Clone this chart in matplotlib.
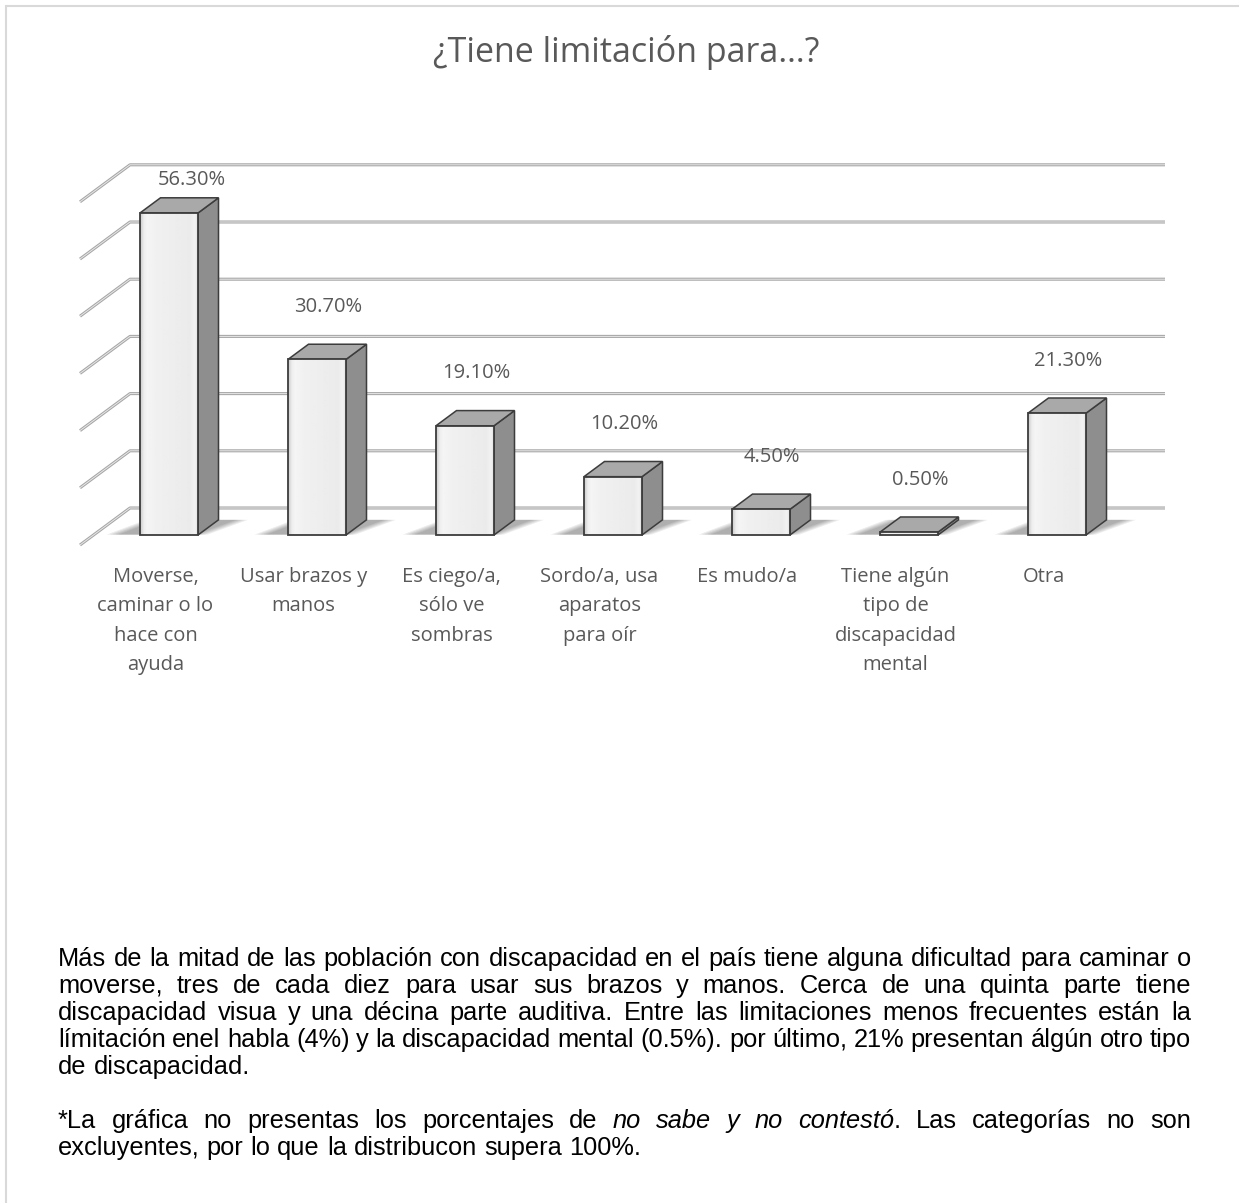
import numpy as np
import matplotlib
matplotlib.use('Agg')
import matplotlib.pyplot as plt
from matplotlib.patches import Polygon
from matplotlib.lines import Line2D

# data
categories = ['Moverse,\ncaminar o lo\nhace con\nayuda',
              'Usar brazos y\nmanos',
              'Es ciego/a,\nsólo ve\nsombras',
              'Sordo/a, usa\naparatos\npara oír',
              'Es mudo/a',
              'Tiene algún\ntipo de\ndiscapacidad\nmental',
              'Otra']
values = [56.3, 30.7, 19.1, 10.2, 4.5, 0.5, 21.3]
grid_values = [0, 10, 20, 30, 40, 50, 60]
title = '¿Tiene limitación para…?'

body_lines = [
    'Más de la mitad de las población con discapacidad en el país tiene alguna dificultad para caminar o',
    'moverse, tres de cada diez para usar sus brazos y manos. Cerca de una quinta parte tiene',
    'discapacidad visua y una décina parte auditiva. Entre las limitaciones menos frecuentes están la',
    'límitación enel habla (4%) y la discapacidad mental (0.5%). por último, 21% presentan álgún otro tipo',
    'de discapacidad.',
]
note_lines = [
    [('*La gráfica no presentas los porcentajes de ', False),
     ('no sabe y no contestó', True),
     ('. Las categorías no son', False)],
    [('excluyentes, por lo que la distribucon supera 100%.', False)],
]

# layout (pixels)
W, H = 1248, 1203
PX_CAT = 148.0      # pixels per category step
PX_PCT = 5.72       # pixels per percentage point
X0_PX, Y0_PX = 155.5, 545.0   # floor front, category 0
DX = 50.0 / PX_CAT  # depth direction
DY = 37.0 / PX_PCT
D_FRONT, D_BACK = 0.27, 0.68
BAR_X0, BAR_W = -0.196, 0.392
FLOOR_X = (80 - X0_PX) / PX_CAT
WALL_END = (1165 - X0_PX) / PX_CAT

TXT = '#595959'
FONT = 'Open Sans'

fig = plt.figure(figsize=(W / 100, H / 100), dpi=100)
fig.patch.set_facecolor('white')

ax_top, ax_bot = 120, 700
ax = fig.add_axes([0, 1 - ax_bot / H, 1, (ax_bot - ax_top) / H])
ax.axis('off')


def proj(x, v, d):
    return x + d * DX, v + d * DY


# gridlines: left wall diagonal + back wall line
for g in grid_values:
    p0 = proj(FLOOR_X, g, 0)
    p1 = proj(FLOOR_X, g, 1)
    xs = [p0[0], p1[0], WALL_END]
    ys = [p0[1], p1[1], p1[1]]
    ax.plot(xs, ys, color='#a6a6a6', lw=2.2, solid_capstyle='butt', zorder=1)
    ax.plot(xs, ys, color='#e8e8e8', lw=0.7, solid_capstyle='butt', zorder=1.1)

front_shade = np.interp(np.linspace(0, 1, 60),
                        [0, 0.06, 0.12, 0.3, 0.6, 0.85, 0.94, 1],
                        [0.80, 0.93, 0.96, 0.94, 0.93, 0.92, 0.95, 0.85])

for i, v in enumerate(values):
    xl = i + BAR_X0
    xr = xl + BAR_W

    # soft floor shadow, mostly to the left of the bar
    for k in range(5):
        grow = 0.02 * (4 - k)
        shadow = [proj(xl - 0.15 - grow, 0, D_FRONT + 0.01),
                  proj(xr - 0.02 + grow, 0, D_FRONT + 0.01),
                  proj(xr + 0.12 + grow, 0, D_BACK),
                  proj(xl - 0.02 - grow, 0, D_BACK)]
        ax.add_patch(Polygon(shadow, closed=True, facecolor='black',
                             edgecolor='none', alpha=0.07, zorder=2))

    front = [proj(xl, 0, D_FRONT), proj(xr, 0, D_FRONT),
             proj(xr, v, D_FRONT), proj(xl, v, D_FRONT)]
    side = [proj(xr, 0, D_FRONT), proj(xr, 0, D_BACK),
            proj(xr, v, D_BACK), proj(xr, v, D_FRONT)]
    top = [proj(xl, v, D_FRONT), proj(xr, v, D_FRONT),
           proj(xr, v, D_BACK), proj(xl, v, D_BACK)]

    ax.add_patch(Polygon(side, closed=True, facecolor='#8e8e8e',
                         edgecolor='#3c3c3c', lw=1.1, zorder=3))
    ax.add_patch(Polygon(top, closed=True, facecolor='#a9a9a9',
                         edgecolor='#3c3c3c', lw=1.1, zorder=3))
    fp = Polygon(front, closed=True, facecolor='none',
                 edgecolor='#3c3c3c', lw=1.3, zorder=4)
    ax.add_patch(fp)
    (fx0, fy0), (fx1, _), _, (_, fy1) = front
    img = ax.imshow(np.tile(front_shade, (2, 1)), cmap='gray', vmin=0, vmax=1,
                    extent=[fx0, fx1, fy0, fy1], aspect='auto',
                    interpolation='bilinear', zorder=3.5)
    img.set_clip_path(fp)

    # value label
    ly = min(v + D_BACK * DY + 6.5, 63.8)
    lx = i + 0.165 + (0.08 if ly >= 63.8 else 0)
    ax.text(lx, ly, f'{v:.2f}%', ha='center', va='center',
            fontsize=14.5, color=TXT, family=FONT, zorder=5)

    # category label
    ax.text(i, (Y0_PX - 567) / PX_PCT, categories[i], ha='center', va='top',
            fontsize=14.5, color=TXT, family=FONT, linespacing=1.63)

ax.set_xlim((0 - X0_PX) / PX_CAT, (W - X0_PX) / PX_CAT)
ax.set_ylim((Y0_PX - ax_bot) / PX_PCT, (Y0_PX - ax_top) / PX_PCT)

fig.text(626 / W, 1 - 52 / H, title, ha='center', va='center',
         fontsize=24.5, color=TXT, family=FONT)

# frame
fig.add_artist(Line2D([8 / W, 1238 / W], [1 - 6 / H, 1 - 6 / H],
                      color='#d9d9d9', lw=1.5))
fig.add_artist(Line2D([6 / W, 6 / W], [1 - 6 / H, 0],
                      color='#d9d9d9', lw=1.5))

# justified paragraph
renderer = fig.canvas.get_renderer()
LEFT, RIGHT = 58, 1191
BODY_SIZE = 18.3


def to_words(runs):
    words = [[]]
    for text, italic in runs:
        for j, part in enumerate(text.split(' ')):
            if j > 0:
                words.append([])
            if part:
                words[-1].append((part, italic))
    return [w for w in words if w]


def draw_line(runs, y_px, justify):
    words = to_words(runs)
    pieces = []
    widths = []
    for w in words:
        ww = []
        for part, italic in w:
            t = fig.text(0, 1 - y_px / H, part, ha='left', va='center',
                         fontsize=BODY_SIZE, family='Liberation Sans',
                         style='italic' if italic else 'normal', color='black')
            ww.append((t, t.get_window_extent(renderer).width))
        pieces.append(ww)
        widths.append(sum(p[1] for p in ww))
    space = fig.text(0, 0, 'a a', fontsize=BODY_SIZE, family='Liberation Sans')
    a_only = fig.text(0, 0, 'aa', fontsize=BODY_SIZE, family='Liberation Sans')
    gap = space.get_window_extent(renderer).width - a_only.get_window_extent(renderer).width
    space.remove()
    a_only.remove()
    if justify and len(words) > 1:
        gap = (RIGHT - LEFT - sum(widths)) / (len(words) - 1)
    x = LEFT
    for ww in pieces:
        for t, wd in ww:
            t.set_x(x / W)
            x += wd
        x += gap


body_y = [959, 986, 1013, 1040, 1067]
for k, line in enumerate(body_lines):
    draw_line([(line, False)], body_y[k], justify=k < len(body_lines) - 1)

note_y = [1121, 1148]
for k, runs in enumerate(note_lines):
    draw_line(runs, note_y[k], justify=k == 0)

fig.savefig('out.png', dpi=100, facecolor='white')
